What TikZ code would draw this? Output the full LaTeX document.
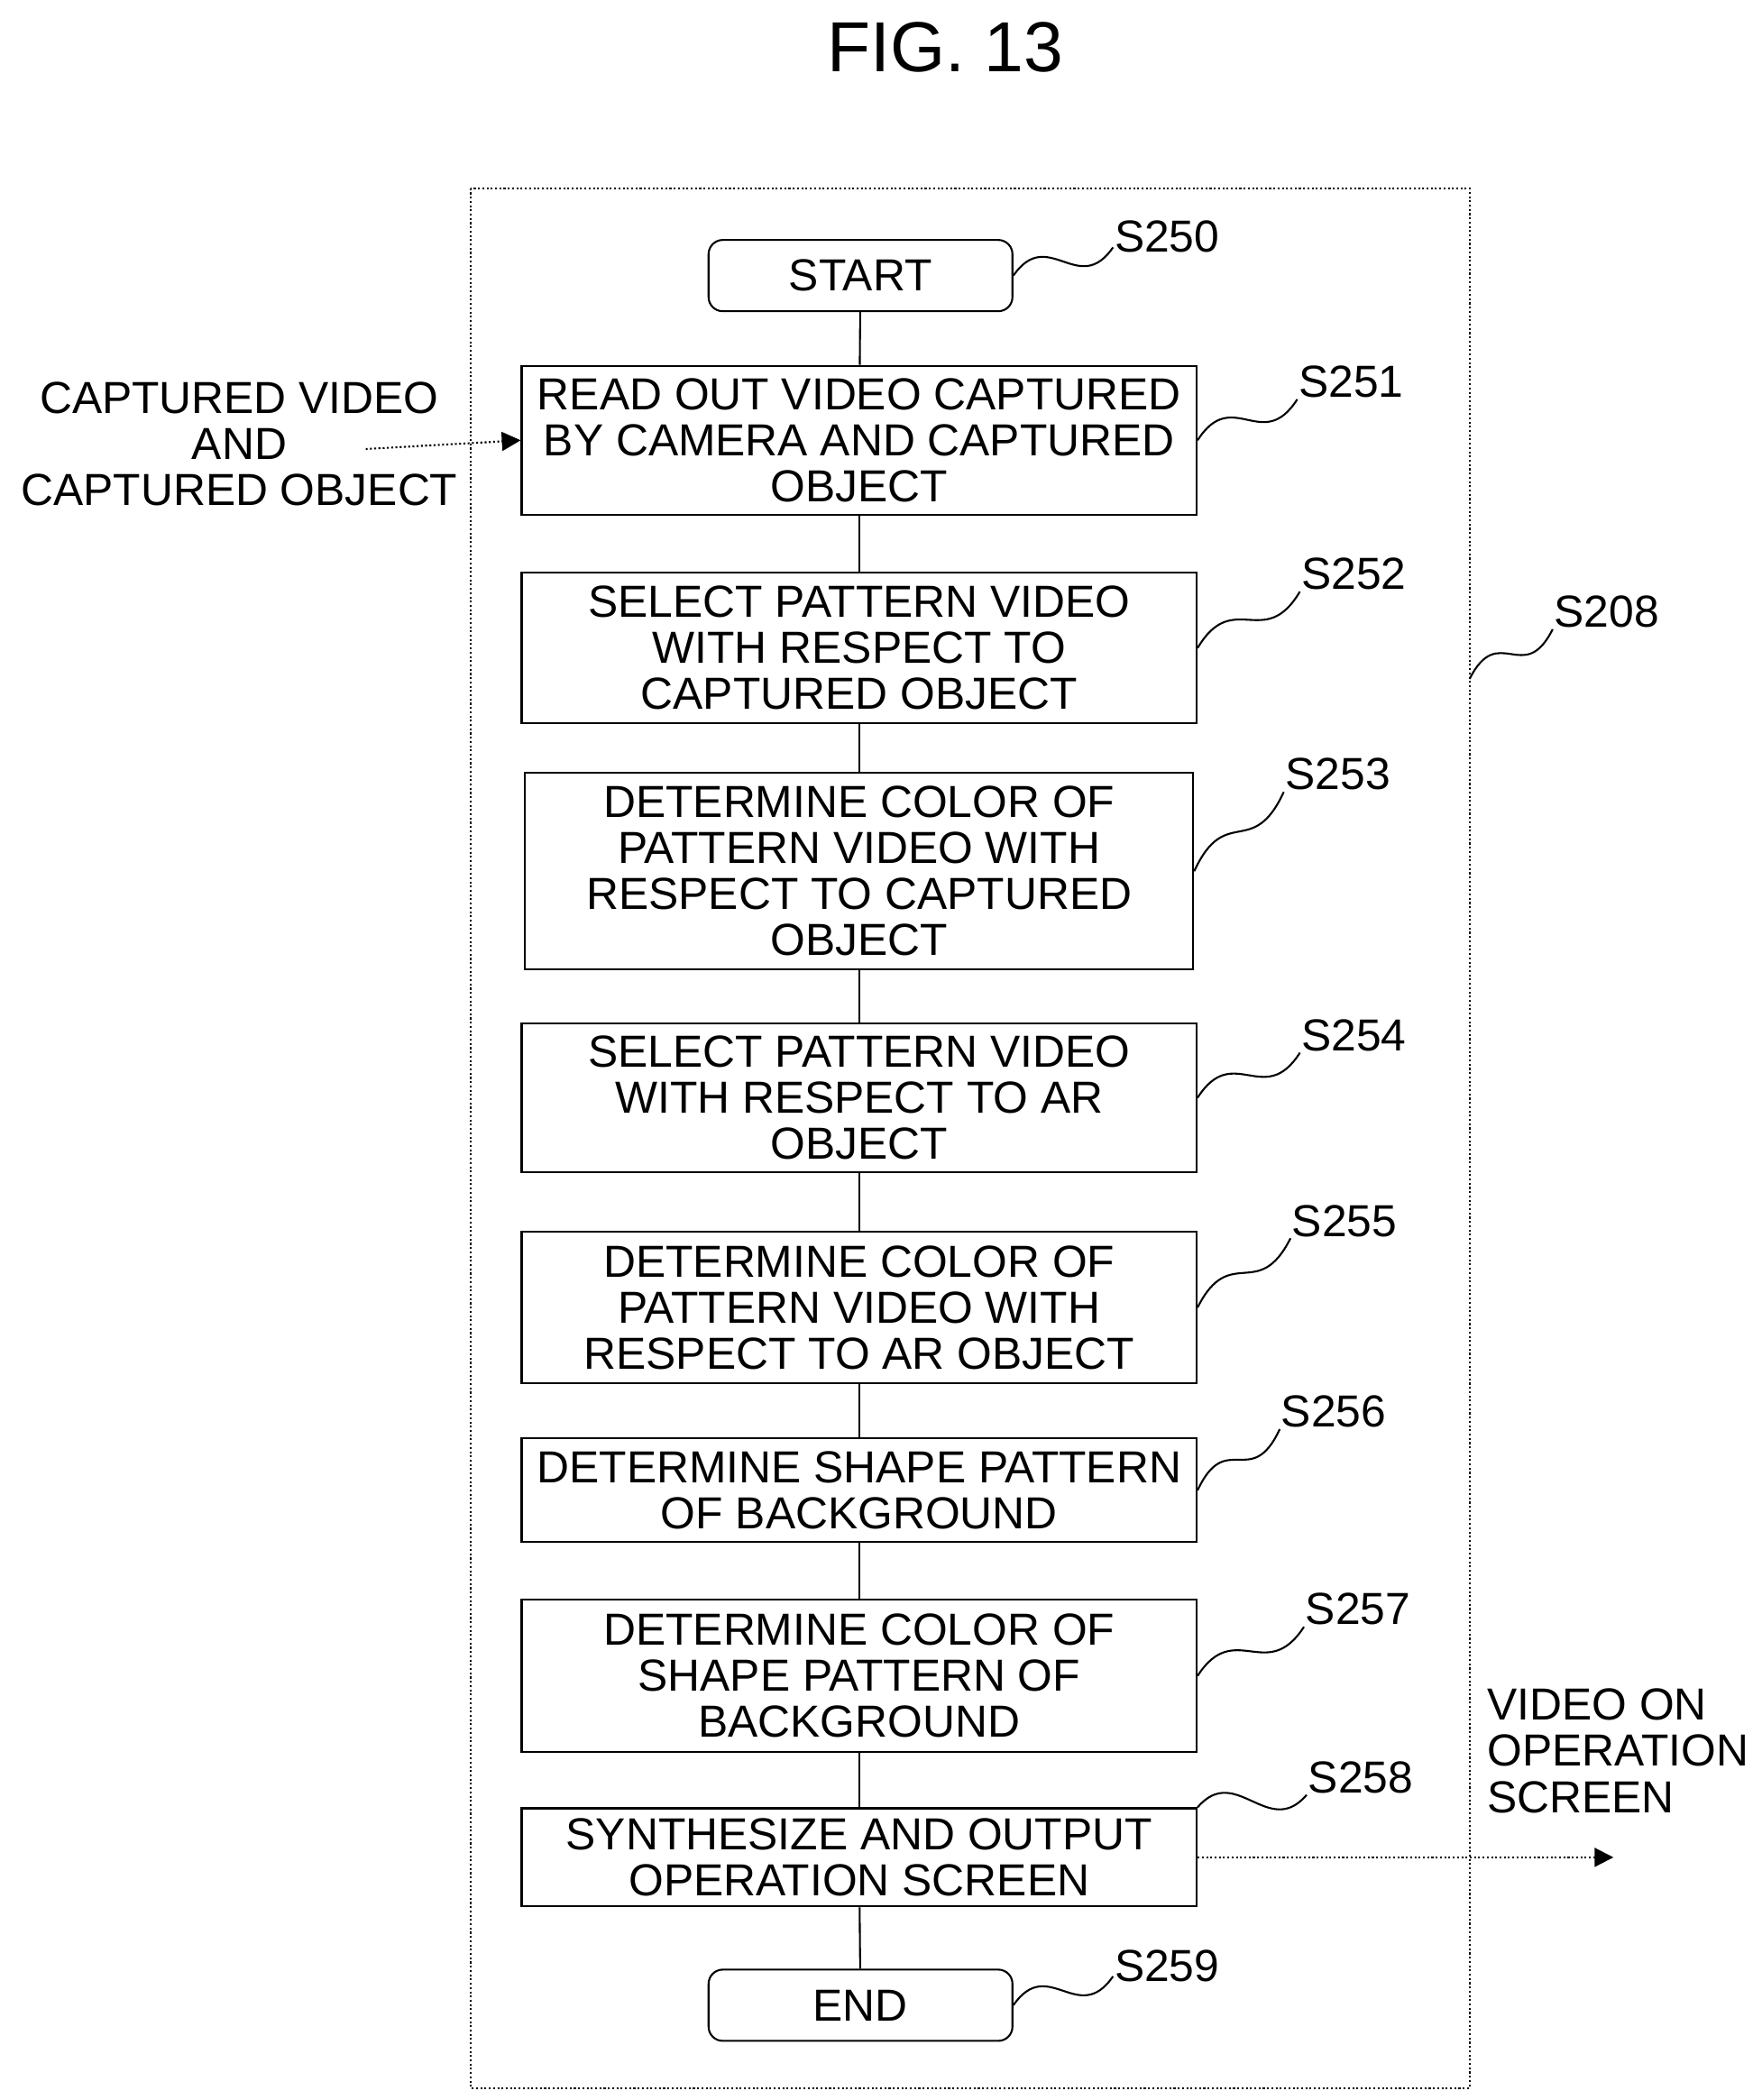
\documentclass[tikz,border=0pt]{standalone}
\usepackage{fontspec}
\setmainfont{Liberation Sans}
\usetikzlibrary{calc, arrows.meta, positioning}
\tikzset{
    block/.style={rectangle, draw, thick, align=center, minimum width=10.04cm, inner sep=1pt, font=\fontsize{19}{19.5}\selectfont},
    term/.style={rectangle, draw, thick, rounded corners=6pt, minimum width=4.52cm, minimum height=1.06cm, font=\fontsize{19}{19.5}\selectfont},
    lbl/.style={font=\fontsize{19}{19.5}\selectfont, align=center},
    flow/.style={thick},
    feed/.style={thick, densely dotted, -{Triangle[length=8pt, width=8pt]}}
}
\newcommand{\squig}[2]{\draw[thick] (#1) .. controls ($(#1)!0.35!(#2)+(0,0.6)$) and ($(#1)!0.65!(#2)+(0,-0.6)$) .. (#2);}

\begin{document}
\begin{tikzpicture}
    \useasboundingbox (0,0) rectangle (26.2,-31.24);

    % Title and frame
    \node[font=\fontsize{30}{32}\selectfont] (title) at (14.06,-0.7) {FIG. 13};
    \draw[thick, densely dotted] (7.0,-2.8) rectangle (21.86,-31.06);
    \coordinate (frame) at (21.86,-10.1);

    % Steps
    \node[term] (start) at (12.8,-4.1) {START};
    \node[block, minimum height=2.22cm] (read) at (12.78,-6.55) {READ OUT VIDEO CAPTURED\\BY CAMERA AND CAPTURED\\OBJECT};
    \node[block, minimum height=2.24cm] (selcap) at (12.78,-9.64) {SELECT PATTERN VIDEO\\WITH RESPECT TO\\CAPTURED OBJECT};
    \node[block, minimum height=2.92cm, minimum width=9.94cm] (colcap) at (12.78,-12.96) {DETERMINE COLOR OF\\PATTERN VIDEO WITH\\RESPECT TO CAPTURED\\OBJECT};
    \node[block, minimum height=2.22cm] (selar) at (12.78,-16.33) {SELECT PATTERN VIDEO\\WITH RESPECT TO AR\\OBJECT};
    \node[block, minimum height=2.26cm] (colar) at (12.78,-19.45) {DETERMINE COLOR OF\\PATTERN VIDEO WITH\\RESPECT TO AR OBJECT};
    \node[block, minimum height=1.54cm] (shape) at (12.78,-22.17) {DETERMINE SHAPE PATTERN\\OF BACKGROUND};
    \node[block, minimum height=2.26cm] (colshape) at (12.78,-24.93) {DETERMINE COLOR OF\\SHAPE PATTERN OF\\BACKGROUND};
    \node[block, minimum height=1.46cm] (synth) at (12.78,-27.63) {SYNTHESIZE AND OUTPUT\\OPERATION SCREEN};
    \node[term] (stop) at (12.8,-29.83) {END};

    % Flow
    \draw[flow] (start) -- (read);
    \draw[flow] (read) -- (selcap);
    \draw[flow] (selcap) -- (colcap);
    \draw[flow] (colcap) -- (selar);
    \draw[flow] (selar) -- (colar);
    \draw[flow] (colar) -- (shape);
    \draw[flow] (shape) -- (colshape);
    \draw[flow] (colshape) -- (synth);
    \draw[flow] (synth) -- (stop);

    % Input and output
    \node[lbl] (input) at (3.56,-6.6) {CAPTURED VIDEO\\AND\\CAPTURED OBJECT};
    \coordinate (inp) at (5.44,-6.68);
    \draw[feed] (inp) -- (read.west);
    \node[lbl, align=left, anchor=north west] (output) at (22.0,-25.0) {VIDEO ON\\OPERATION\\SCREEN};
    \coordinate (outp) at (24.0,-27.63);
    \draw[feed] (synth.east) -- (outp);

    % Step labels
    \node[lbl] (l250) at (17.36,-3.52) {S250};
    \node[lbl] (l251) at (20.1,-5.68) {S251};
    \node[lbl] (l252) at (20.14,-8.54) {S252};
    \node[lbl] (l253) at (19.9,-11.52) {S253};
    \node[lbl] (l254) at (20.14,-15.4) {S254};
    \node[lbl] (l255) at (20.0,-18.16) {S255};
    \node[lbl] (l256) at (19.84,-21.0) {S256};
    \node[lbl] (l257) at (20.2,-23.94) {S257};
    \node[lbl] (l258) at (20.24,-26.44) {S258};
    \node[lbl] (l259) at (17.36,-29.24) {S259};
    \node[lbl] (l208) at (23.9,-9.1) {S208};

    \squig{start.east}{$(l250.south west)+(0.1,0.2)$}
    \squig{read.east}{$(l251.south west)+(0.1,0.1)$}
    \squig{selcap.east}{$(l252.south west)+(0.1,0.1)$}
    \squig{colcap.east}{$(l253.south west)+(0.1,0.1)$}
    \squig{selar.east}{$(l254.south west)+(0.1,0.1)$}
    \squig{colar.east}{$(l255.south west)+(0.1,0.1)$}
    \squig{shape.east}{$(l256.south west)+(0.1,0.1)$}
    \squig{colshape.east}{$(l257.south west)+(0.1,0.1)$}
    \squig{synth.north east}{$(l258.south west)+(0.1,0.1)$}
    \squig{stop.east}{$(l259.south west)+(0.1,0.2)$}
    \squig{frame}{$(l208.south west)+(0.1,0.1)$}
\end{tikzpicture}
\end{document}
